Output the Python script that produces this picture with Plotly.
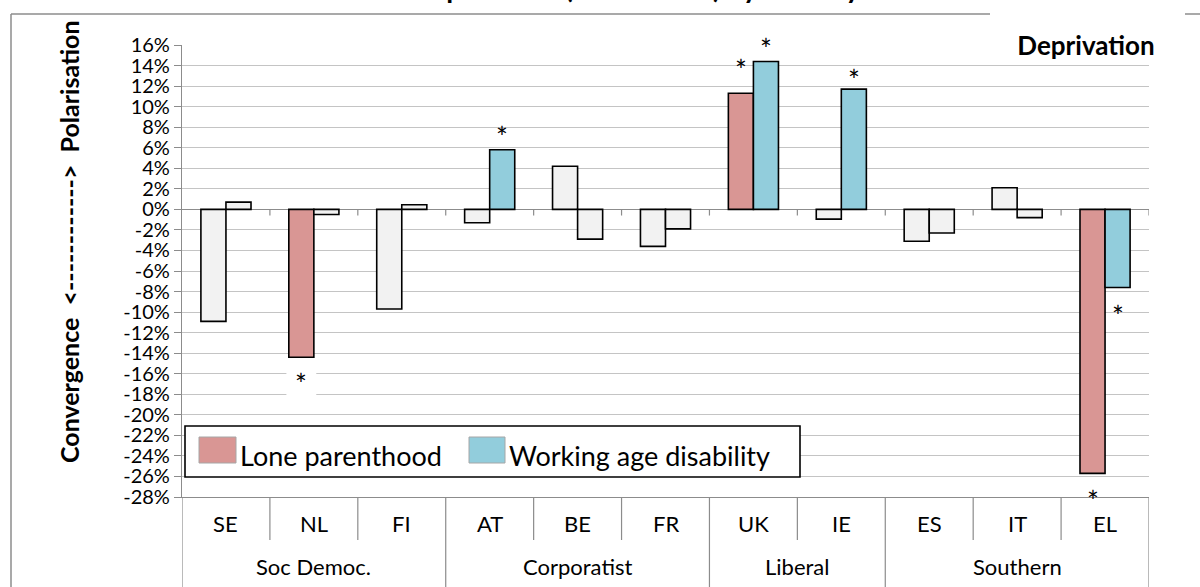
import plotly.graph_objects as go

# ---------------- data ----------------
countries = ["SE", "NL", "FI", "AT", "BE", "FR", "UK", "IE", "ES", "IT", "EL"]
regimes = ["Soc Democ.", "Soc Democ.", "Soc Democ.",
           "Corporatist", "Corporatist", "Corporatist",
           "Liberal", "Liberal",
           "Southern", "Southern", "Southern"]
lone_parenthood = [-10.9, -14.4, -9.7, -1.3, 4.2, -3.6, 11.3, -0.95, -3.1, 2.1, -25.7]
working_age_disability = [0.7, -0.5, 0.45, 5.8, -2.9, -1.9, 14.4, 11.7, -2.3, -0.8, -7.6]
lone_significant = [False, True, False, False, False, False, True, False, False, False, True]
disab_significant = [False, False, False, True, False, False, True, True, False, False, True]
# position of the significance asterisks (in % units)
lone_star_y = [None, -16.2, None, None, None, None, 14.3, None, None, None, -27.6]
disab_star_y = [None, None, None, 7.8, None, None, 16.4, 13.4, None, None, -9.6]
y_tick_values = [16, 14, 12, 10, 8, 6, 4, 2, 0, -2, -4, -6, -8, -10, -12, -14,
                 -16, -18, -20, -22, -24, -26, -28]
y_tick_labels = ["16%", "14%", "12%", "10%", "8%", "6%", "4%", "2%", "0%", "-2%",
                 "-4%", "-6%", "-8%", "-10%", "-12%", "-14%", "-16%", "-18%",
                 "-20%", "-22%", "-24%", "-26%", "-28%"]
series_names = ["Lone parenthood", "Working age disability"]
title_text = "Trends in deprivation (2005-2008) by country"
panel_label = "Deprivation"
y_title = "Convergence  <------------>  Polarisation"

# ---------------- style ----------------
W, H = 1200, 587
L, R, T, B = 182, 1149, 45, 497          # plot area in pixels
Y_MIN, Y_MAX = -28, 16
PINK, BLUE, GREY_FILL = "#D99694", "#92CDDC", "#F2F2F2"
AXIS_GREY = "#8C8C8C"
GRID_GREY = "#C4C4C4"
FONT = "Lato"
BAR_GAP = 0.43
half = (1 - BAR_GAP) / 4                  # offset of each bar centre from the category centre


def px_x(p):
    return (p - L) / (R - L)


def px_y(p):
    return (B - p) / (B - T)


def val_y(v):
    return (v - Y_MIN) / (Y_MAX - Y_MIN)


idx = list(range(len(countries)))

fig = go.Figure()
fig.add_trace(go.Bar(
    x=idx, y=lone_parenthood, name=series_names[0],
    marker=dict(color=[PINK if s else GREY_FILL for s in lone_significant],
                line=dict(color="black", width=1.6)),
    showlegend=False, hoverinfo="skip"))
fig.add_trace(go.Bar(
    x=idx, y=working_age_disability, name=series_names[1],
    marker=dict(color=[BLUE if s else GREY_FILL for s in disab_significant],
                line=dict(color="black", width=1.6)),
    showlegend=False, hoverinfo="skip"))

shapes = []
annotations = []

# category box below the plot
for i in range(len(countries) + 1):
    xb = i - 0.5
    if i == 0 or i == len(countries) or regimes[i] != regimes[i - 1]:
        bottom = px_y(H + 2)
    else:
        bottom = px_y(540)
    shapes.append(dict(type="line", xref="x", yref="paper", x0=xb, x1=xb, y0=0, y1=bottom,
                       line=dict(color=AXIS_GREY, width=1.2)))
    if i > 0:
        # tick marks hanging below the zero line
        shapes.append(dict(type="line", xref="x", yref="y", x0=xb, x1=xb, y0=0, y1=-0.6,
                           line=dict(color=AXIS_GREY, width=1.2)))

for i, c in enumerate(countries):
    annotations.append(dict(text=c, x=i, xref="x", y=px_y(523), yref="paper",
                            showarrow=False, font=dict(family=FONT, size=22, color="black"),
                            xanchor="center", yanchor="middle"))
seen = []
for g in regimes:
    if g not in seen:
        seen.append(g)
for g in seen:
    members = [i for i, r in enumerate(regimes) if r == g]
    annotations.append(dict(text=g, x=sum(members) / len(members), xref="x", y=px_y(566),
                            yref="paper", showarrow=False,
                            font=dict(family=FONT, size=22, color="black"),
                            xanchor="center", yanchor="middle"))

# significance asterisks
for i in idx:
    for ys, off in ((lone_star_y[i], -half), (disab_star_y[i], half)):
        if ys is None:
            continue
        annotations.append(dict(text="*", x=i + off, xref="x", y=val_y(ys), yref="paper",
                                showarrow=False, font=dict(family=FONT, size=28, color="black"),
                                xanchor="center", yanchor="middle", yshift=-8))

# white patch behind NL asterisk
nl = countries.index("NL")
shapes.append(dict(type="rect", xref="x", yref="y", x0=nl - half - 0.17, x1=nl - half + 0.17,
                   y0=lone_parenthood[nl] - 0.1, y1=-19.0, fillcolor="white",
                   line=dict(width=0), layer="between"))

# legend box
shapes.append(dict(type="rect", xref="paper", yref="paper", x0=px_x(185), x1=px_x(800),
                   y0=px_y(477), y1=px_y(426), fillcolor="white",
                   line=dict(color="black", width=1.6), layer="above"))
for (sx0, sx1, col, tx, name) in ((199, 236, PINK, 238, series_names[0]),
                                  (469, 505, BLUE, 507, series_names[1])):
    shapes.append(dict(type="rect", xref="paper", yref="paper", x0=px_x(sx0), x1=px_x(sx1),
                       y0=px_y(463), y1=px_y(437), fillcolor=col,
                       line=dict(color="#A6A6A6", width=1), layer="above"))
    annotations.append(dict(text=name, x=px_x(tx), xref="paper", y=px_y(455), yref="paper",
                            showarrow=False, font=dict(family=FONT, size=27, color="black"),
                            xanchor="left", yanchor="middle"))

# panel label
annotations.append(dict(text="<b>%s</b>" % panel_label, x=px_x(1086), xref="paper",
                        y=px_y(45), yref="paper", showarrow=False,
                        font=dict(family=FONT, size=26, color="black"),
                        xanchor="center", yanchor="middle", bgcolor="white", width=182,
                        height=34))

# y-axis title
annotations.append(dict(text="<b>%s</b>" % y_title, x=px_x(69), xref="paper",
                        y=px_y(242), yref="paper", showarrow=False, textangle=-90,
                        font=dict(family=FONT, size=25, color="black"),
                        xanchor="center", yanchor="middle"))

# chart title (mostly outside the picture, as in the reference)
annotations.append(dict(text="<b>%s</b>" % title_text, x=px_x(578), xref="paper",
                        y=px_y(6), yref="paper", showarrow=False,
                        font=dict(family=FONT, size=28, color="black"),
                        xanchor="center", yanchor="bottom"))

# outer chart border
for (x0, y0, x1, y1) in ((11, 14, 990, 14), (1185, 14, 1205, 14), (11, 14, 11, H + 2)):
    shapes.append(dict(type="line", xref="paper", yref="paper", x0=px_x(x0), x1=px_x(x1),
                       y0=px_y(y0), y1=px_y(y1), line=dict(color=AXIS_GREY, width=1.5),
                       layer="above"))

fig.update_layout(
    width=W, height=H,
    margin=dict(l=L, r=W - R, t=T, b=H - B, autoexpand=False),
    paper_bgcolor="white", plot_bgcolor="white",
    barmode="group", bargap=BAR_GAP, bargroupgap=0,
    font=dict(family=FONT, size=18, color="black"),
    showlegend=False,
    shapes=shapes, annotations=annotations,
    xaxis=dict(range=[-0.5, len(countries) - 0.5], showticklabels=False, showgrid=False,
               zeroline=False, showline=True, linecolor=AXIS_GREY, linewidth=1.2,
               ticks="", fixedrange=True),
    yaxis=dict(range=[Y_MIN, Y_MAX], tickvals=y_tick_values, ticktext=y_tick_labels,
               showgrid=True, gridcolor=GRID_GREY, gridwidth=1.3,
               zeroline=True, zerolinecolor=AXIS_GREY, zerolinewidth=1.2,
               showline=True, linecolor=AXIS_GREY, linewidth=1.2,
               ticks="outside", ticklen=7, tickcolor=AXIS_GREY, tickwidth=1.2,
               tickfont=dict(family=FONT, size=20, color="black"), fixedrange=True),
)

fig.write_html("out.html", config={"displayModeBar": False},
               post_script="document.body.style.margin='0px';")
